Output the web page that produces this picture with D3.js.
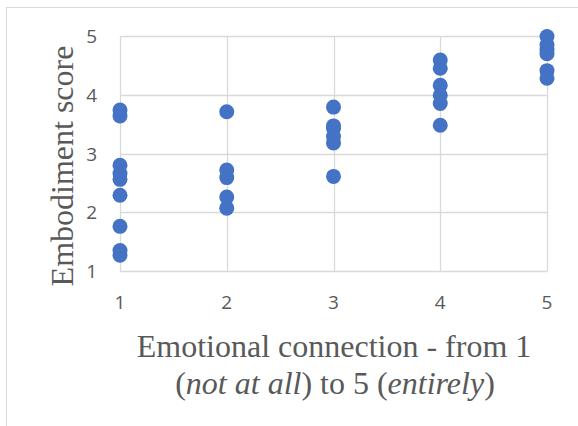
<!DOCTYPE html>
<html>
<head>
<meta charset="utf-8">
<script src="https://cdn.jsdelivr.net/npm/d3@7"></script>
<style>
  body { margin: 0; background: #fff; }
  svg { display: block; }
</style>
</head>
<body>
<div id="graph"></div>
<script>
// emotional connection level (x) and embodiment scores
var levels = [1, 2, 3, 4, 5];
var scores1 = [3.74, 3.64, 2.80, 2.66, 2.56, 2.29, 1.76, 1.35, 1.27];
var scores2 = [3.71, 2.72, 2.59, 2.26, 2.07];
var scores3 = [3.79, 3.47, 3.43, 3.29, 3.18, 2.61];
var scores4 = [4.59, 4.45, 4.16, 3.99, 3.85, 3.48];
var scores5 = [4.99, 4.85, 4.77, 4.70, 4.41, 4.28];
var yTicks = [1, 2, 3, 4, 5];

var width = 578, height = 426;

var points = [];
[scores1, scores2, scores3, scores4, scores5].forEach(function(s, i) {
  s.forEach(function(v) { points.push({x: levels[i], y: v}); });
});

var x = d3.scaleLinear().domain([1, 5]).range([120, 547]);
var y = d3.scaleLinear().domain([1, 5]).range([271, 36]);

var svg = d3.select('#graph')
    .append("svg")
    .attr("width", width)
    .attr("height", height);

// chart border
svg.append("rect")
    .attr("x", 6.5).attr("y", 7.5)
    .attr("width", 600).attr("height", 500)
    .attr("fill", "none")
    .attr("stroke", "#d9d9d9");

// gridlines
svg.append("g")
    .selectAll("line.h")
    .data(yTicks)
    .enter().append("line")
    .attr("x1", x(1)).attr("x2", x(5))
    .attr("y1", d => Math.round(y(d)) + 0.5).attr("y2", d => Math.round(y(d)) + 0.5)
    .attr("stroke", "#d9d9d9").attr("stroke-width", 1.3);

svg.append("g")
    .selectAll("line.v")
    .data(levels)
    .enter().append("line")
    .attr("x1", d => Math.round(x(d)) + 0.5).attr("x2", d => Math.round(x(d)) + 0.5)
    .attr("y1", y(5)).attr("y2", y(1))
    .attr("stroke", "#d9d9d9").attr("stroke-width", 1.3);

// tick labels
svg.append("g")
    .selectAll("text")
    .data(yTicks)
    .enter().append("text")
    .attr("x", 97)
    .attr("y", d => y(d) + 7)
    .attr("text-anchor", "end")
    .attr("font-family", "Open Sans, sans-serif")
    .attr("font-size", "19px")
    .attr("fill", "#595959")
    .text(d => d);

svg.append("g")
    .selectAll("text")
    .data(levels)
    .enter().append("text")
    .attr("x", d => x(d))
    .attr("y", 309)
    .attr("text-anchor", "middle")
    .attr("font-family", "Open Sans, sans-serif")
    .attr("font-size", "19px")
    .attr("fill", "#595959")
    .text(d => d);

// points
svg.append("g")
    .selectAll("circle")
    .data(points)
    .enter().append("circle")
    .attr("cx", d => x(d.x))
    .attr("cy", d => y(d.y))
    .attr("r", 7.5)
    .attr("fill", "#4472c4");

// axis titles
var title = svg.append("text")
    .attr("text-anchor", "middle")
    .attr("font-family", "Liberation Serif, Times New Roman, serif")
    .attr("font-size", "32px")
    .attr("fill", "#595959");
title.append("tspan").attr("x", 334).attr("y", 357).text("Emotional connection - from 1");
var l2 = title.append("tspan").attr("x", 335).attr("y", 394);
l2.append("tspan").text("(");
l2.append("tspan").attr("font-style", "italic").text("not at all");
l2.append("tspan").text(") to 5 (");
l2.append("tspan").attr("font-style", "italic").text("entirely");
l2.append("tspan").text(")");

svg.append("text")
    .attr("transform", "translate(73,166) rotate(-90)")
    .attr("text-anchor", "middle")
    .attr("font-family", "Liberation Serif, Times New Roman, serif")
    .attr("font-size", "32px")
    .attr("fill", "#595959")
    .text("Embodiment score");
</script>
</body>
</html>
